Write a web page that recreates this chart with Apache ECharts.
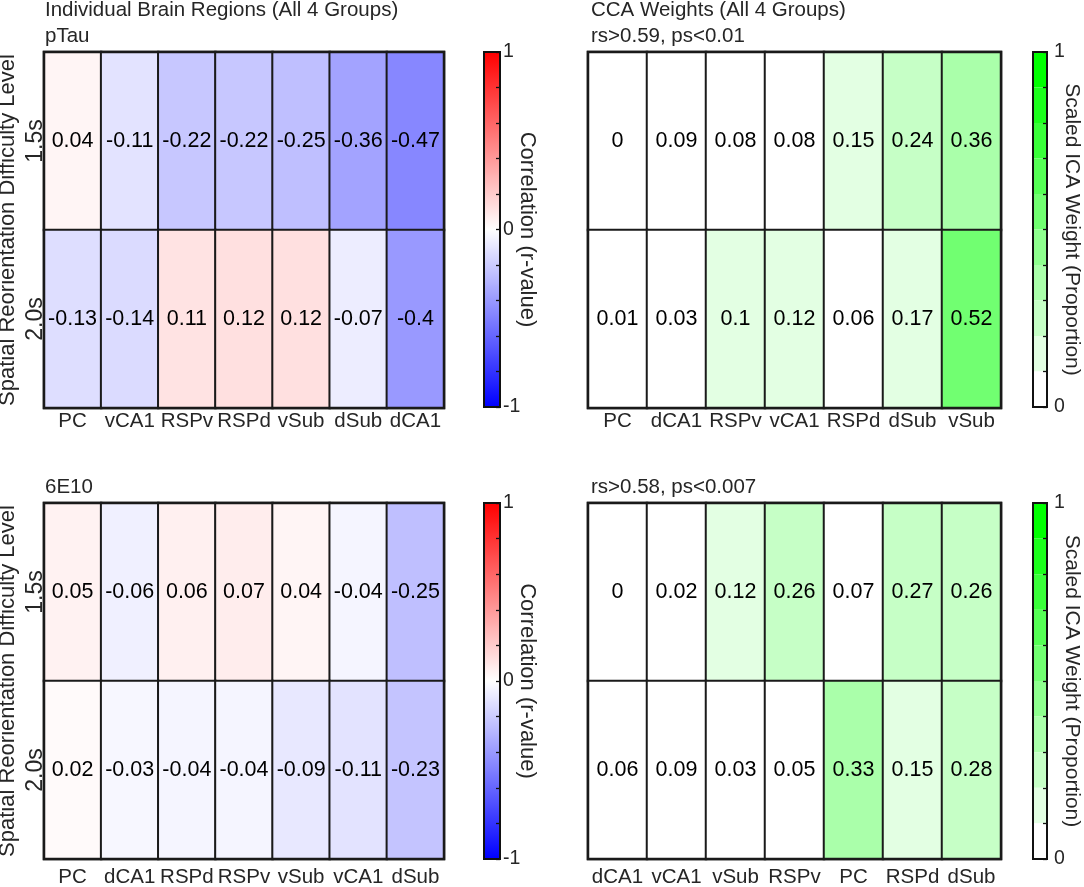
<!DOCTYPE html>
<html>
<head>
<meta charset="utf-8">
<script src="https://cdn.jsdelivr.net/npm/echarts@6/dist/echarts.min.js"></script>
<style>
html,body{margin:0;padding:0;background:#fff;}
#chart{width:1084px;height:887px;}
</style>
</head>
<body>
<div id="chart"></div>
<script>
// ---------- data ----------
const rowLabels = ['1.5s', '2.0s'];

const pTauRegions = ['PC', 'vCA1', 'RSPv', 'RSPd', 'vSub', 'dSub', 'dCA1'];
const pTau15 = [0.04, -0.11, -0.22, -0.22, -0.25, -0.36, -0.47];
const pTau20 = [-0.13, -0.14, 0.11, 0.12, 0.12, -0.07, -0.4];

const ccaTopRegions = ['PC', 'dCA1', 'RSPv', 'vCA1', 'RSPd', 'dSub', 'vSub'];
const ccaTop15 = [0, 0.09, 0.08, 0.08, 0.15, 0.24, 0.36];
const ccaTop20 = [0.01, 0.03, 0.1, 0.12, 0.06, 0.17, 0.52];

const e10Regions = ['PC', 'dCA1', 'RSPd', 'RSPv', 'vSub', 'vCA1', 'dSub'];
const e10_15 = [0.05, -0.06, 0.06, 0.07, 0.04, -0.04, -0.25];
const e10_20 = [0.02, -0.03, -0.04, -0.04, -0.09, -0.11, -0.23];

const ccaBotRegions = ['dCA1', 'vCA1', 'vSub', 'RSPv', 'PC', 'RSPd', 'dSub'];
const ccaBot15 = [0, 0.02, 0.12, 0.26, 0.07, 0.27, 0.26];
const ccaBot20 = [0.06, 0.09, 0.03, 0.05, 0.33, 0.15, 0.28];

const corrTickLabels = [-1, 0, 1];
const weightTickLabels = [0, 1];
const weightSteps = 10;

// ---------- helpers ----------
const FONT = '"Liberation Sans", Arial, Helvetica, sans-serif';
const TXT = '#262626';

function cells(row1, row2) {
  const out = [];
  [row1, row2].forEach((row, r) => row.forEach((v, c) => out.push([c, r, v])));
  return out;
}

const heatGrids = [
  {left: 44, top: 52, width: 400, height: 356},
  {left: 588, top: 52, width: 413, height: 356},
  {left: 44, top: 503, width: 400, height: 356},
  {left: 588, top: 503, width: 413, height: 356}
];
const barGrids = [
  {left: 484, top: 52, width: 16, height: 355},
  {left: 1033, top: 52, width: 14, height: 355},
  {left: 484, top: 503, width: 16, height: 356},
  {left: 1033, top: 503, width: 14, height: 356}
];
const regionSets = [pTauRegions, ccaTopRegions, e10Regions, ccaBotRegions];
const dataSets = [cells(pTau15, pTau20), cells(ccaTop15, ccaTop20), cells(e10_15, e10_20), cells(ccaBot15, ccaBot20)];
const isCorr = [true, false, true, false];
const xLabelMargin = [3, 3, 8, 8];

const grid = [];
const xAxis = [];
const yAxis = [];
const series = [];
const visualMap = [];

const gridBase = {show: true, backgroundColor: 'transparent', z: 10, containLabel: false, outerBoundsMode: 'none'};

heatGrids.forEach((g, i) => {
  grid.push(Object.assign({}, gridBase, {borderColor: '#1a1a1a', borderWidth: 2.5}, g));
  xAxis.push({
    type: 'category', gridIndex: i, data: regionSets[i],
    axisLine: {show: false}, axisTick: {show: false}, splitLine: {show: false},
    axisLabel: {color: TXT, fontSize: 20.5, fontFamily: FONT, margin: xLabelMargin[i], interval: 0}
  });
  const left = (i % 2 === 0);
  yAxis.push({
    type: 'category', gridIndex: i, data: rowLabels, inverse: true,
    axisLine: {show: false}, axisTick: {show: false}, splitLine: {show: false},
    axisLabel: {show: left, color: TXT, fontSize: 23, fontFamily: FONT, rotate: 90,
      align: 'center', verticalAlign: 'middle', margin: 8},
    name: left ? 'Spatial Reorientation Difficulty Level' : '',
    nameLocation: 'middle', nameRotate: 90, nameGap: 25, nameMoveOverlap: false,
    nameTextStyle: {color: TXT, fontSize: 22, fontFamily: FONT}
  });
  series.push({
    type: 'heatmap', xAxisIndex: i, yAxisIndex: i, data: dataSets[i],
    itemStyle: {borderColor: '#1a1a1a', borderWidth: 2},
    label: {show: true, color: '#000', fontSize: 21.5, fontFamily: FONT,
      formatter: p => String(p.value[2])},
    emphasis: {disabled: true}
  });
});

const greenPieces = [];
for (let k = 0; k < weightSteps; k++) {
  const c = Math.round(255 * (1 - k / (weightSteps - 1)));
  const hex = c.toString(16).padStart(2, '0');
  greenPieces.push({gte: k / weightSteps, lt: (k + 1) / weightSteps + (k === weightSteps - 1 ? 1e-9 : 0),
    color: '#' + hex + 'ff' + hex});
}

barGrids.forEach((g, j) => {
  const gi = heatGrids.length + j;
  const corr = isCorr[j];
  grid.push(Object.assign({}, gridBase, {borderColor: '#111', borderWidth: 2}, g));
  xAxis.push({type: 'value', gridIndex: gi, show: false, min: 0, max: 1});
  const ticks = corr ? corrTickLabels : weightTickLabels;
  yAxis.push({
    type: 'value', gridIndex: gi, position: 'right', z: 11,
    min: corr ? -1 : 0, max: 1, interval: corr ? 0.2 : 0.1,
    axisLine: {show: false, onZero: false}, splitLine: {show: false}, minorTick: {show: false},
    axisTick: {show: true, inside: true, length: 4, lineStyle: {color: '#111', width: 1.3}},
    axisLabel: {color: TXT, fontSize: 19.5, fontFamily: FONT, margin: corr ? 3 : 7,
      formatter: v => {
        const hit = ticks.find(t => Math.abs(t - v) < 1e-6);
        return hit === undefined ? '' : String(hit);
      }},
    name: corr ? 'Correlation (r-value)' : 'Scaled ICA Weight (Proportion)',
    nameLocation: 'middle', nameRotate: -90, nameGap: corr ? 16 : 14, nameMoveOverlap: false,
    nameTextStyle: {color: TXT, fontSize: corr ? 22 : 21, fontFamily: FONT}
  });
  if (corr) {
    visualMap.push({
      type: 'continuous', seriesIndex: j, min: -1, max: 1,
      inRange: {color: ['#0000ff', '#ffffff', '#ff0000']},
      left: g.left, top: g.top, itemWidth: g.width, itemHeight: g.height,
      calculable: false, text: null, showLabel: false, padding: 0, z: 1, hoverLink: false
    });
  } else {
    visualMap.push({
      type: 'piecewise', seriesIndex: j, pieces: greenPieces,
      left: g.left, top: g.top, itemWidth: g.width, itemHeight: g.height / weightSteps,
      itemGap: 0, itemSymbol: 'rect', showLabel: false, padding: 0, z: 1,
      hoverLink: false, selectedMode: false
    });
  }
});

const titleStyle = {color: TXT, fontSize: 20.5, fontWeight: 'normal', fontFamily: FONT};
const title = [
  {text: 'Individual Brain Regions (All 4 Groups)', left: 45, top: 0},
  {text: 'pTau', left: 45, top: 26},
  {text: 'CCA Weights (All 4 Groups)', left: 591, top: 0},
  {text: 'rs>0.59, ps<0.01', left: 591, top: 26},
  {text: '6E10', left: 45, top: 477},
  {text: 'rs>0.58, ps<0.007', left: 591, top: 477}
].map(t => Object.assign({padding: 0, textStyle: titleStyle}, t));

const chart = echarts.init(document.getElementById('chart'), null, {renderer: 'canvas'});
chart.setOption({
  backgroundColor: '#fff',
  animation: false,
  title, grid, xAxis, yAxis, series, visualMap
});
</script>
</body>
</html>
